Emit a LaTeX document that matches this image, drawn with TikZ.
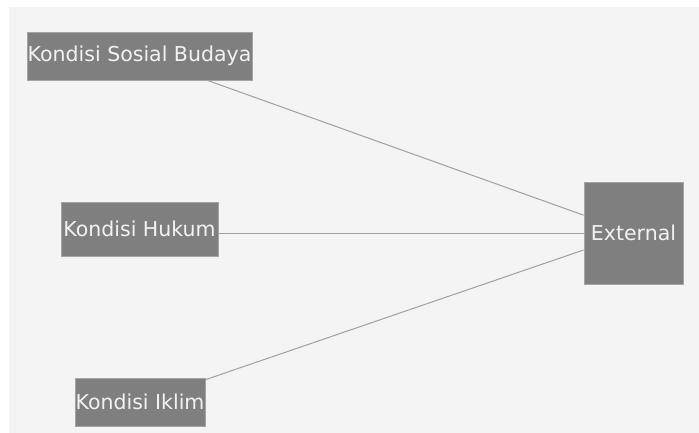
\documentclass[tikz,border=0pt]{standalone}
\usepackage{fontspec}
\setmainfont{DejaVu Sans}
\usepackage{tikz}
\usetikzlibrary{positioning}
\definecolor{bggray}{HTML}{F4F4F4}
\definecolor{boxgray}{HTML}{7F7F7F}
\definecolor{edgegray}{HTML}{A4A4A4}
\definecolor{linegray}{HTML}{A0A0A0}
\definecolor{txtgray}{HTML}{F2F2F2}

\begin{document}
\begin{tikzpicture}[x=1pt, y=-1pt,
  factor/.style={fill=boxgray, draw=edgegray, line width=0.8pt, text=txtgray,
    inner sep=0pt, font=\fontsize{20.5}{24}\selectfont},
  link/.style={linegray, line width=1pt}]

\useasboundingbox (0,0) rectangle (699,433);
\fill[white] (0,0) rectangle (699,433);
\fill[bggray] (9,7) rectangle (699,433);

% kotak kiri
\node[factor, minimum width=225pt, minimum height=48pt] (sosial) at (139.5,56) {Kondisi Sosial Budaya};
\node[factor, minimum width=157pt, minimum height=54pt] (hukum) at (139.5,229) {Kondisi Hukum};
\node[factor, minimum width=130pt, minimum height=48pt] (iklim) at (140,402) {Kondisi Iklim};

% kotak kanan
\node[factor, minimum width=99pt, minimum height=102pt] (external) at (633.5,233) {External};

\draw[link] (sosial) -- (external);
\draw[link] (external.west -| hukum.east) -- (external.west);
\draw[link] (iklim) -- (external);

\end{tikzpicture}
\end{document}
